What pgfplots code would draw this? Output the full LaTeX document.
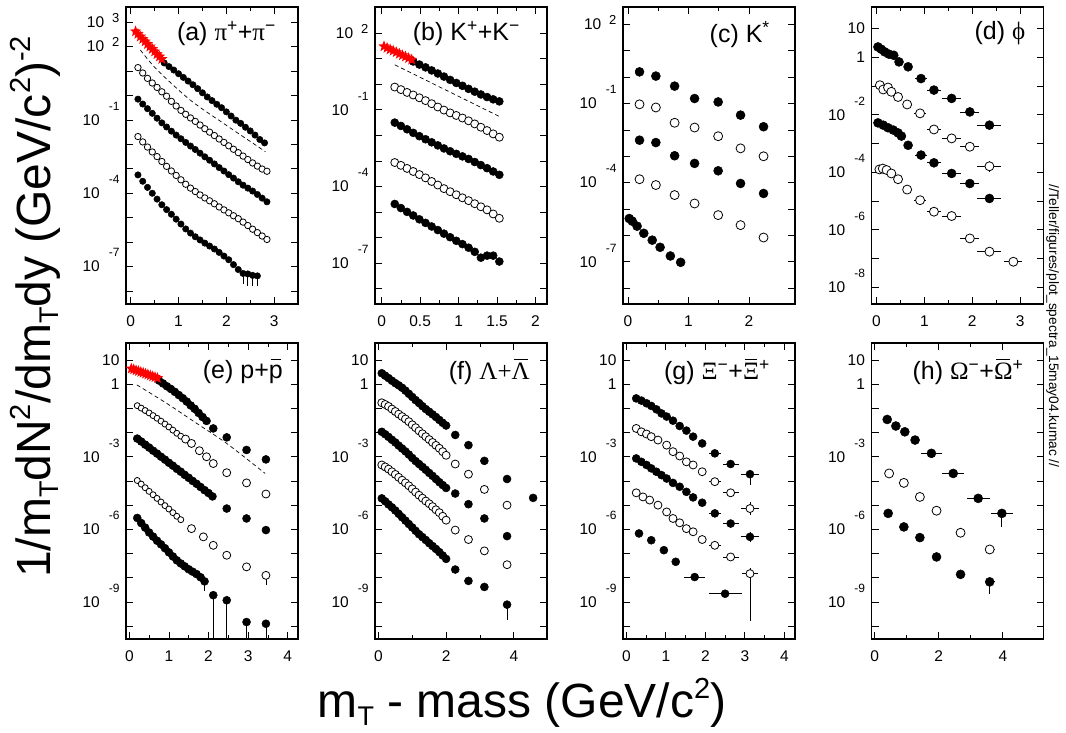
\documentclass[border=0pt]{standalone}
\usepackage{fontspec}
\setmainfont{Liberation Sans}
\newfontfamily\grk{Liberation Serif}
\usepackage{pgfplots}
\pgfplotsset{compat=1.18}
\usetikzlibrary{plotmarks}

% filled five-point star, for the red low-pT points
\pgfdeclareplotmark{fstar}{%
  \pgfpathmoveto{\pgfpointpolar{90}{\pgfplotmarksize}}%
  \pgfpathlineto{\pgfpointpolar{126}{0.42\pgfplotmarksize}}%
  \pgfpathlineto{\pgfpointpolar{162}{\pgfplotmarksize}}%
  \pgfpathlineto{\pgfpointpolar{198}{0.42\pgfplotmarksize}}%
  \pgfpathlineto{\pgfpointpolar{234}{\pgfplotmarksize}}%
  \pgfpathlineto{\pgfpointpolar{270}{0.42\pgfplotmarksize}}%
  \pgfpathlineto{\pgfpointpolar{306}{\pgfplotmarksize}}%
  \pgfpathlineto{\pgfpointpolar{342}{0.42\pgfplotmarksize}}%
  \pgfpathlineto{\pgfpointpolar{18}{\pgfplotmarksize}}%
  \pgfpathlineto{\pgfpointpolar{54}{0.42\pgfplotmarksize}}%
  \pgfpathclose\pgfusepathqfill}

% y values are log10 of the yield; labels drawn PAW-style
\newcommand{\tn}[1]{10\hspace{9pt}\raisebox{15pt}[0pt][0pt]{\fontsize{12}{12}\selectfont#1}}
\newcommand{\tp}[1]{10\hspace{8pt}\raisebox{5pt}[0pt][0pt]{\fontsize{13}{13}\selectfont#1}}
\newcommand{\tz}[1]{#1\hspace{20pt}}
% scripts for the big axis titles
\newcommand{\bsup}[1]{\raisebox{19pt}{\fontsize{29}{29}\selectfont#1}}
\newcommand{\bsub}[1]{\raisebox{-8pt}{\fontsize{27}{27}\selectfont#1}}
% bar over a letter (antiparticles)
\newcommand{\obar}[2]{\setbox0\hbox{#2}\rlap{\hspace{0.12\wd0}\raisebox{#1}{\rule{0.76\wd0}{1.3pt}}}\box0}

\tikzset{plab/.style={anchor=north east, inner sep=0pt, font=\fontsize{25}{26}\selectfont}}

\pgfplotsset{
  panel/.style={scale only axis, width=172pt, anchor=south west,
    axis line style={line width=1.5pt},
    tick style={black, line width=0.8pt},
    major tick length=7pt, minor tick length=4pt,
    minor x tick num=1,
    tick label style={font=\fontsize{15.5}{16}\selectfont},
    xticklabel style={/pgf/number format/assume math mode=true, yshift=-8pt},
    yticklabel style={xshift=-3pt}},
  top/.style={panel, height=297pt},
  bot/.style={panel, height=296pt, ymin=-10.53, ymax=1.70, ytick={-10,...,1},
    yticklabels={{},\tn{-9},{},{},\tn{-6},{},{},\tn{-3},{},{},\tz{1},\tz{10}}},
  fc/.style={only marks, mark=*, mark size=#1, mark options={fill=black, draw=black, line width=0.5pt}},
  oc/.style={only marks, mark=*, mark size=#1, mark options={fill=white, draw=black, line width=0.8pt}},
  rs/.style={only marks, mark=fstar, mark size=6, red, mark options={fill=red, draw=red}},
  dl/.style={no marks, black, line width=0.7pt, dash pattern=on 4pt off 3pt},
  eb/.style={black, only marks, mark=none, error bars/.cd, x dir=both, x explicit,
    y dir=both, y explicit, error mark=none, error bar style={black, line width=0.8pt}},
}

\begin{document}
\begin{tikzpicture}
\useasboundingbox (0pt,0pt) rectangle (1066pt,733pt);

% ---------------- (a) pions
\begin{axis}[top, at={(126pt,429pt)}, xmin=-0.1, xmax=3.5, ymin=-8.53, ymax=3.62,
  xtick={0,1,2,3}, ytick={-8,...,3},
  yticklabels={{},\tn{-7},{},{},\tn{-4},{},{},\tn{-1},{},{},\tp{2},\tp{3}}]
\addplot[dl, smooth] coordinates {(0.2,1.86) (0.55,1.05) (1.24,-0.18) (1.94,-1.14) (2.82,-2.30)};
\addplot[fc=3.2] coordinates {(0.7,1.33) (0.8,1.18) (0.9,1.04) (1.0,0.89) (1.1,0.74) (1.2,0.59) (1.3,0.44) (1.4,0.28) (1.5,0.11) (1.6,-0.06) (1.7,-0.21) (1.8,-0.36) (1.9,-0.50) (2.0,-0.67) (2.1,-0.84) (2.2,-1.01) (2.3,-1.14) (2.4,-1.30) (2.5,-1.45) (2.6,-1.62) (2.7,-1.80) (2.8,-1.94)};
\addplot[oc=3.2] coordinates {(0.15,1.14) (0.25,0.92) (0.35,0.70) (0.45,0.51) (0.55,0.33) (0.65,0.15) (0.75,-0.03) (0.85,-0.24) (0.95,-0.43) (1.05,-0.61) (1.15,-0.77) (1.25,-0.92) (1.35,-1.06) (1.45,-1.21) (1.55,-1.36) (1.65,-1.50) (1.75,-1.64) (1.85,-1.78) (1.95,-1.92) (2.05,-2.06) (2.15,-2.20) (2.25,-2.34) (2.35,-2.48) (2.45,-2.62) (2.55,-2.76) (2.65,-2.89) (2.75,-3.01) (2.85,-3.10)};
\addplot[fc=3.2] coordinates {(0.15,-0.15) (0.25,-0.35) (0.35,-0.54) (0.45,-0.73) (0.55,-0.93) (0.65,-1.12) (0.75,-1.29) (0.85,-1.46) (0.95,-1.62) (1.05,-1.77) (1.15,-1.92) (1.25,-2.07) (1.35,-2.21) (1.45,-2.36) (1.55,-2.51) (1.65,-2.65) (1.75,-2.80) (1.85,-2.95) (1.95,-3.09) (2.05,-3.24) (2.15,-3.38) (2.25,-3.53) (2.35,-3.67) (2.45,-3.79) (2.55,-3.91) (2.65,-4.05) (2.75,-4.20) (2.85,-4.35)};
\addplot[oc=3.2] coordinates {(0.15,-1.68) (0.25,-1.90) (0.35,-2.11) (0.45,-2.31) (0.55,-2.50) (0.65,-2.70) (0.75,-2.90) (0.85,-3.09) (0.95,-3.27) (1.05,-3.45) (1.15,-3.63) (1.25,-3.79) (1.35,-3.93) (1.45,-4.07) (1.55,-4.19) (1.65,-4.31) (1.75,-4.43) (1.85,-4.56) (1.95,-4.68) (2.05,-4.80) (2.15,-4.92) (2.25,-5.04) (2.35,-5.18) (2.45,-5.32) (2.55,-5.47) (2.65,-5.61) (2.75,-5.75) (2.85,-5.89)};
\addplot[eb] coordinates {(2.35,-7.28) += (0,0) -= (0,0.45) (2.45,-7.30) += (0,0) -= (0,0.5) (2.55,-7.36) += (0,0) -= (0,0.45) (2.65,-7.38) += (0,0) -= (0,0.4)};
\addplot[fc=3.2] coordinates {(0.15,-3.25) (0.25,-3.51) (0.35,-3.76) (0.45,-4.00) (0.55,-4.24) (0.65,-4.47) (0.75,-4.67) (0.85,-4.86) (0.95,-5.06) (1.05,-5.26) (1.15,-5.46) (1.25,-5.63) (1.35,-5.78) (1.45,-5.91) (1.55,-6.04) (1.65,-6.16) (1.75,-6.28) (1.85,-6.42) (1.95,-6.57) (2.05,-6.72) (2.15,-6.92) (2.25,-7.12) (2.35,-7.28) (2.45,-7.30) (2.55,-7.36) (2.65,-7.38)};
\addplot[rs] coordinates {(0.10,2.62) (0.15,2.52) (0.20,2.41) (0.25,2.31) (0.30,2.21) (0.35,2.10) (0.40,2.00) (0.45,1.90) (0.50,1.80) (0.55,1.69) (0.60,1.59) (0.65,1.49)};
\node[plab] at (rel axis cs:1,1) [xshift=-22pt, yshift=-14pt] {(a) {\grk π}\textsuperscript{+}+{\grk π}\textsuperscript{−}};
\end{axis}

% ---------------- (b) kaons
\begin{axis}[top, at={(375pt,429pt)}, xmin=-0.087, xmax=2.15, ymin=-8.59, ymax=3.02,
  xtick={0,0.5,1,1.5,2}, ytick={-8,...,3},
  yticklabels={{},\tn{-7},{},{},\tn{-4},{},{},\tn{-1},{},{},\tp{2},{}}]
\addplot[dl] coordinates {(0.17,0.76) (1.53,-1.26)};
\addplot[fc=4] coordinates {(0.41,0.89) (0.49,0.77) (0.57,0.66) (0.65,0.54) (0.73,0.42) (0.81,0.30) (0.89,0.17) (0.97,0.05) (1.05,-0.06) (1.13,-0.18) (1.21,-0.29) (1.29,-0.40) (1.37,-0.50) (1.45,-0.59) (1.53,-0.67)};
\addplot[oc=4] coordinates {(0.17,-0.11) (0.25,-0.21) (0.33,-0.32) (0.41,-0.42) (0.49,-0.53) (0.57,-0.64) (0.65,-0.76) (0.73,-0.89) (0.81,-1.01) (0.89,-1.12) (0.97,-1.22) (1.05,-1.32) (1.13,-1.43) (1.21,-1.55) (1.29,-1.68) (1.37,-1.81) (1.45,-1.94) (1.53,-2.07)};
\addplot[fc=4] coordinates {(0.17,-1.50) (0.25,-1.63) (0.33,-1.76) (0.41,-1.90) (0.49,-2.03) (0.57,-2.15) (0.65,-2.27) (0.73,-2.39) (0.81,-2.51) (0.89,-2.62) (0.97,-2.72) (1.05,-2.82) (1.13,-2.92) (1.21,-3.04) (1.29,-3.16) (1.37,-3.28) (1.45,-3.41) (1.53,-3.54)};
\addplot[oc=4] coordinates {(0.17,-3.06) (0.25,-3.17) (0.33,-3.29) (0.41,-3.41) (0.49,-3.53) (0.57,-3.66) (0.65,-3.80) (0.73,-3.94) (0.81,-4.08) (0.89,-4.20) (0.97,-4.32) (1.05,-4.44) (1.13,-4.55) (1.21,-4.67) (1.29,-4.79) (1.37,-4.91) (1.45,-5.07) (1.53,-5.24)};
\addplot[fc=4] coordinates {(0.17,-4.68) (0.25,-4.84) (0.33,-4.99) (0.41,-5.13) (0.49,-5.28) (0.57,-5.42) (0.65,-5.56) (0.73,-5.70) (0.81,-5.84) (0.89,-5.98) (0.97,-6.12) (1.05,-6.25) (1.13,-6.39) (1.21,-6.55) (1.29,-6.78) (1.37,-6.70) (1.45,-6.70) (1.53,-6.93)};
\addplot[rs] coordinates {(0.03,1.48) (0.07,1.42) (0.11,1.36) (0.15,1.31) (0.19,1.25) (0.23,1.19) (0.27,1.13) (0.31,1.08) (0.35,1.02) (0.39,0.96)};
\node[plab] at (rel axis cs:1,1) [xshift=-27pt, yshift=-14pt] {(b) K\textsuperscript{+}+K\textsuperscript{−}};
\end{axis}

% ---------------- (c) K*
\begin{axis}[top, at={(623pt,429pt)}, xmin=-0.083, xmax=2.76, ymin=-8.6, ymax=2.66,
  xtick={0,1,2}, ytick={-8,...,2},
  yticklabels={{},\tn{-7},{},{},\tn{-4},{},{},\tn{-1},{},{},\tp{2}}]
\addplot[fc=4.5] coordinates {(0.19,0.20) (0.46,0.04) (0.77,-0.34) (1.10,-0.81) (1.49,-0.94) (1.86,-1.44) (2.24,-1.88)};
\addplot[oc=4.5] coordinates {(0.19,-1.03) (0.46,-1.15) (0.77,-1.73) (1.10,-1.91) (1.49,-2.24) (1.86,-2.70) (2.24,-3.00)};
\addplot[fc=4.5] coordinates {(0.19,-2.39) (0.46,-2.48) (0.77,-2.98) (1.10,-3.27) (1.49,-3.55) (1.86,-4.03) (2.24,-4.41)};
\addplot[oc=4.5] coordinates {(0.19,-3.87) (0.46,-4.09) (0.77,-4.47) (1.10,-4.79) (1.49,-5.23) (1.86,-5.61) (2.24,-6.08)};
\addplot[fc=4.5] coordinates {(0.02,-5.36) (0.07,-5.46) (0.15,-5.65) (0.26,-5.92) (0.40,-6.18) (0.53,-6.45) (0.70,-6.78) (0.87,-7.02)};
\node[plab] at (rel axis cs:1,1) [xshift=-25pt, yshift=-14pt] {(c) K\textsuperscript{*}};
\end{axis}

% ---------------- (d) phi
\begin{axis}[top, at={(871.5pt,429pt)}, xmin=-0.105, xmax=3.49, ymin=-8.58, ymax=1.75,
  xtick={0,1,2,3}, ytick={-8,...,1},
  yticklabels={\tn{-8},{},\tn{-6},{},\tn{-4},{},\tn{-2},{},\tz{1},\tz{10}}]
\addplot[eb] coordinates {(0.66,-0.33) +- (0.07,0) (0.93,-0.74) +- (0.13,0) (1.20,-1.14) +- (0.15,0) (1.57,-1.43) +- (0.2,0) (1.95,-1.90) +- (0.2,0) (2.36,-2.36) +- (0.25,0)};
\addplot[eb] coordinates {(0.64,-1.64) +- (0.07,0) (0.91,-1.95) +- (0.13,0) (1.20,-2.51) +- (0.15,0) (1.57,-2.82) +- (0.2,0) (1.95,-3.11) +- (0.2,0) (2.36,-3.79) +- (0.25,0.2)};
\addplot[eb] coordinates {(0.66,-3.06) +- (0.07,0) (0.93,-3.40) +- (0.13,0) (1.20,-3.67) +- (0.15,0) (1.57,-4.04) +- (0.2,0) (1.95,-4.39) +- (0.2,0) (2.36,-4.91) +- (0.25,0)};
\addplot[eb] coordinates {(0.64,-4.60) +- (0.07,0) (0.91,-4.97) +- (0.13,0) (1.20,-5.37) +- (0.15,0) (1.57,-5.52) +- (0.2,0) (1.95,-6.30) +- (0.2,0) (2.36,-6.76) +- (0.25,0) (2.86,-7.11) +- (0.19,0)};
\addplot[fc=4.5] coordinates {(0.03,0.36) (0.10,0.28) (0.17,0.19) (0.26,0.11) (0.36,0.07) (0.47,-0.16) (0.66,-0.33) (0.93,-0.74) (1.20,-1.14) (1.57,-1.43) (1.95,-1.90) (2.36,-2.36)};
\addplot[oc=4.5] coordinates {(0.07,-0.97) (0.14,-1.12) (0.24,-1.05) (0.31,-1.20) (0.45,-1.38) (0.64,-1.64) (0.91,-1.95) (1.20,-2.51) (1.57,-2.82) (1.95,-3.11) (2.36,-3.79)};
\addplot[fc=4.5] coordinates {(0.03,-2.28) (0.14,-2.36) (0.24,-2.45) (0.35,-2.53) (0.45,-2.63) (0.52,-2.74) (0.66,-3.06) (0.93,-3.40) (1.20,-3.67) (1.57,-4.04) (1.95,-4.39) (2.36,-4.91)};
\addplot[oc=4.5] coordinates {(0.06,-3.90) (0.13,-3.87) (0.21,-3.92) (0.31,-4.04) (0.45,-4.24) (0.64,-4.60) (0.91,-4.97) (1.20,-5.37) (1.57,-5.52) (1.95,-6.30) (2.36,-6.76) (2.86,-7.11)};
\node[plab] at (rel axis cs:1,1) [xshift=-18pt, yshift=-14pt] {(d) {\grk ϕ}};
\end{axis}

% ---------------- (e) protons
\begin{axis}[bot, at={(126pt,94pt)}, xmin=-0.084, xmax=4.26, xtick={0,...,4}]
\addplot[dl, smooth] coordinates {(0.19,-0.03) (0.94,-0.79) (1.70,-1.62) (2.46,-2.45) (3.43,-3.69)};
\addplot[fc=4] coordinates {(0.75,0.15) (0.85,0.03) (0.95,-0.09) (1.05,-0.20) (1.15,-0.32) (1.25,-0.45) (1.35,-0.58) (1.45,-0.72) (1.55,-0.88) (1.65,-1.02) (1.75,-1.19) (1.85,-1.36) (1.95,-1.52) (2.12,-1.83) (2.46,-2.20) (2.96,-2.72) (3.45,-3.11)};
\addplot[oc=3] coordinates {(0.2,-0.89) (0.3,-0.99) (0.4,-1.09) (0.5,-1.19) (0.6,-1.30) (0.7,-1.41) (0.8,-1.53) (0.9,-1.65) (1.0,-1.77) (1.1,-1.90) (1.2,-2.03) (1.3,-2.15)};
\addplot[oc=4] coordinates {(1.42,-2.27) (1.57,-2.45) (1.77,-2.75) (1.95,-3.00) (2.12,-3.28) (2.46,-3.66) (2.96,-4.08) (3.45,-4.54)};
\addplot[eb] coordinates {(3.45,-6.03) +- (0,0.15)};
\addplot[fc=4] coordinates {(0.2,-2.25) (0.3,-2.37) (0.4,-2.50) (0.5,-2.62) (0.6,-2.75) (0.7,-2.87) (0.8,-3.00) (0.9,-3.12) (1.0,-3.25) (1.1,-3.37) (1.2,-3.50) (1.3,-3.62) (1.4,-3.75) (1.5,-3.87) (1.6,-4.00) (1.7,-4.12) (1.8,-4.25) (1.9,-4.38) (2.0,-4.50) (2.1,-4.64) (2.46,-5.14) (2.96,-5.55) (3.45,-6.03)};
\addplot[oc=3] coordinates {(0.2,-3.98) (0.3,-4.13) (0.4,-4.28) (0.5,-4.43) (0.6,-4.57) (0.7,-4.72) (0.8,-4.87) (0.9,-5.02) (1.0,-5.16) (1.1,-5.31) (1.2,-5.46) (1.3,-5.60)};
\addplot[eb] coordinates {(3.45,-7.90) += (0,0.2) -= (0,0.4)};
\addplot[oc=4] coordinates {(1.57,-5.97) (1.87,-6.31) (2.12,-6.66) (2.46,-7.07) (2.96,-7.55) (3.45,-7.90)};
\addplot[eb] coordinates {(1.9,-8.15) += (0,0) -= (0,0.4) (2.12,-8.72) += (0,0) -= (0,3) (2.46,-8.93) += (0,0) -= (0,3) (2.96,-9.83) += (0,0) -= (0,3) (3.45,-9.90) += (0,0) -= (0,3)};
\addplot[fc=4] coordinates {(0.2,-5.53) (0.3,-5.74) (0.4,-5.93) (0.5,-6.13) (0.6,-6.30) (0.7,-6.47) (0.8,-6.62) (0.9,-6.78) (1.0,-6.95) (1.1,-7.12) (1.2,-7.28) (1.3,-7.41) (1.4,-7.53) (1.5,-7.65) (1.6,-7.75) (1.7,-7.85) (1.8,-7.98) (1.9,-8.15) (2.12,-8.72) (2.46,-8.93) (2.96,-9.83) (3.45,-9.90)};
\addplot[rs] coordinates {(0.05,0.64) (0.11,0.61) (0.17,0.57) (0.23,0.54) (0.29,0.50) (0.35,0.47) (0.41,0.43) (0.47,0.40) (0.53,0.36) (0.59,0.32) (0.65,0.29) (0.71,0.25)};
\node[plab] at (rel axis cs:1,1) [xshift=-15pt, yshift=-16pt] {(e) p+\obar{18pt}{p}};
\end{axis}

% ---------------- (f) Lambda
\begin{axis}[bot, at={(375pt,94pt)}, xmin=-0.1, xmax=4.98, xtick={0,2,4}]
\addplot[fc=4] coordinates {(0.1,0.45) (0.2,0.35) (0.3,0.25) (0.4,0.14) (0.5,0.04) (0.6,-0.05) (0.7,-0.15) (0.8,-0.27) (0.9,-0.40) (1.0,-0.53) (1.1,-0.66) (1.2,-0.78) (1.3,-0.91) (1.4,-1.03) (1.5,-1.14) (1.6,-1.25) (1.7,-1.36) (1.8,-1.48) (1.9,-1.60) (2.0,-1.71) (2.27,-2.10) (2.66,-2.52) (3.13,-3.17) (3.80,-3.92) (4.57,-4.70)};
\addplot[oc=4] coordinates {(0.1,-0.77) (0.2,-0.84) (0.3,-0.92) (0.4,-1.03) (0.5,-1.13) (0.6,-1.24) (0.7,-1.34) (0.8,-1.44) (0.9,-1.55) (1.0,-1.68) (1.1,-1.80) (1.2,-1.93) (1.3,-2.05) (1.4,-2.17) (1.5,-2.29) (1.6,-2.41) (1.7,-2.53) (1.8,-2.65) (1.9,-2.79) (2.0,-2.94) (2.27,-3.30) (2.66,-3.72) (3.13,-4.35) (3.80,-5.00)};
\addplot[fc=4] coordinates {(0.1,-1.97) (0.2,-2.07) (0.3,-2.18) (0.4,-2.30) (0.5,-2.41) (0.6,-2.54) (0.7,-2.66) (0.8,-2.78) (0.9,-2.91) (1.0,-3.05) (1.1,-3.18) (1.2,-3.30) (1.3,-3.42) (1.4,-3.54) (1.5,-3.67) (1.6,-3.79) (1.7,-3.92) (1.8,-4.05) (1.9,-4.17) (2.0,-4.29) (2.27,-4.52) (2.66,-4.96) (3.13,-5.55) (3.80,-6.28)};
\addplot[oc=4] coordinates {(0.1,-3.34) (0.2,-3.42) (0.3,-3.51) (0.4,-3.62) (0.5,-3.73) (0.6,-3.85) (0.7,-3.97) (0.8,-4.08) (0.9,-4.20) (1.0,-4.33) (1.1,-4.46) (1.2,-4.59) (1.3,-4.71) (1.4,-4.83) (1.5,-4.94) (1.6,-5.06) (1.7,-5.19) (1.8,-5.31) (1.9,-5.46) (2.0,-5.62) (2.27,-6.03) (2.66,-6.42) (3.13,-6.89) (3.80,-7.46)};
\addplot[eb] coordinates {(3.80,-9.11) += (0,0) -= (0,0.65)};
\addplot[fc=4] coordinates {(0.1,-4.72) (0.2,-4.84) (0.3,-4.97) (0.4,-5.09) (0.5,-5.22) (0.6,-5.36) (0.7,-5.50) (0.8,-5.64) (0.9,-5.78) (1.0,-5.92) (1.1,-6.06) (1.2,-6.20) (1.3,-6.32) (1.4,-6.44) (1.5,-6.57) (1.6,-6.69) (1.7,-6.81) (1.8,-6.94) (1.9,-7.08) (2.0,-7.22) (2.27,-7.66) (2.66,-8.13) (3.13,-8.38) (3.80,-9.11)};
\node[plab] at (rel axis cs:1,1) [xshift=-17pt, yshift=-16pt] {(f) {\grk Λ+\obar{19pt}{Λ}}};
\end{axis}

% ---------------- (g) Xi
\begin{axis}[bot, at={(623pt,94pt)}, xmin=-0.085, xmax=4.27, xtick={0,...,4}]
\addplot[eb] coordinates {(1.92,-2.45) +- (0.08,0) (2.24,-2.86) +- (0.15,0) (2.64,-3.30) +- (0.2,0) (3.13,-3.72) += (0.24,0.1) -= (0.24,0.45)};
\addplot[eb] coordinates {(2.24,-4.03) +- (0.15,0) (2.64,-4.49) +- (0.2,0) (3.13,-5.14) +- (0.24,0.25)};
\addplot[eb] coordinates {(2.24,-5.34) +- (0.15,0) (2.64,-5.76) +- (0.2,0) (3.13,-6.31) +- (0.24,0.2)};
\addplot[eb] coordinates {(2.24,-6.66) +- (0.15,0) (2.64,-7.14) +- (0.2,0) (3.13,-7.83) += (0.2,0.25) -= (0.2,1.95)};
\addplot[eb] coordinates {(1.73,-7.97) +- (0.27,0) (2.50,-8.66) +- (0.42,0)};
\addplot[fc=4] coordinates {(0.25,-0.59) (0.38,-0.68) (0.51,-0.79) (0.63,-0.90) (0.76,-1.04) (0.89,-1.21) (1.02,-1.34) (1.18,-1.51) (1.35,-1.73) (1.52,-1.92) (1.69,-2.17) (1.92,-2.45) (2.24,-2.86) (2.64,-3.30) (3.13,-3.72)};
\addplot[oc=4] coordinates {(0.25,-1.83) (0.38,-1.97) (0.51,-2.06) (0.63,-2.17) (0.80,-2.31) (1.02,-2.52) (1.18,-2.79) (1.35,-2.97) (1.52,-3.21) (1.69,-3.34) (1.92,-3.62) (2.24,-4.03) (2.64,-4.49) (3.13,-5.14)};
\addplot[fc=4] coordinates {(0.25,-3.07) (0.38,-3.21) (0.51,-3.34) (0.63,-3.48) (0.76,-3.62) (0.89,-3.76) (1.02,-3.90) (1.18,-4.08) (1.35,-4.24) (1.52,-4.45) (1.69,-4.68) (1.92,-4.90) (2.24,-5.34) (2.64,-5.76) (3.13,-6.31)};
\addplot[oc=4] coordinates {(0.25,-4.49) (0.42,-4.66) (0.59,-4.79) (0.80,-5.00) (1.02,-5.28) (1.18,-5.55) (1.35,-5.73) (1.52,-5.97) (1.69,-6.10) (1.92,-6.42) (2.24,-6.66) (2.64,-7.14) (3.13,-7.83)};
\addplot[fc=4] coordinates {(0.32,-6.17) (0.63,-6.45) (0.95,-6.86) (1.25,-7.34) (1.73,-7.97) (2.50,-8.66)};
\node[plab] at (rel axis cs:1,1) [xshift=-25pt, yshift=-16pt] {(g) {\grk Ξ}\textsuperscript{−}+{\grk\obar{19pt}{Ξ}}\textsuperscript{+}};
\end{axis}

% ---------------- (h) Omega
\begin{axis}[bot, at={(871.5pt,94pt)}, xmin=-0.1, xmax=5.27, xtick={0,2,4}]
\addplot[eb] coordinates {(1.77,-2.86) +- (0.33,0) (2.45,-3.69) +- (0.34,0) (3.23,-4.72) +- (0.36,0) (3.97,-5.34) += (0.34,0) -= (0.34,0.55)};
\addplot[eb] coordinates {(2.68,-6.14) +- (0.12,0.1) (3.59,-6.83) +- (0.15,0.1)};
\addplot[eb] coordinates {(2.68,-7.86) +- (0.12,0.1) (3.59,-8.17) += (0.15,0.15) -= (0.15,0.5)};
\addplot[fc=4.5] coordinates {(0.39,-1.46) (0.66,-1.73) (0.94,-1.97) (1.26,-2.31) (1.77,-2.86) (2.45,-3.69) (3.23,-4.72) (3.97,-5.34)};
\addplot[oc=4.5] coordinates {(0.45,-3.69) (0.91,-4.08) (1.41,-4.66) (1.93,-5.23) (2.68,-6.14) (3.59,-6.83)};
\addplot[fc=4.5] coordinates {(0.42,-5.34) (0.91,-5.90) (1.41,-6.34) (1.93,-7.14) (2.68,-7.86) (3.59,-8.17)};
\node[plab] at (rel axis cs:1,1) [xshift=-20pt, yshift=-16pt] {(h) {\grk Ω}\textsuperscript{−}+{\grk\obar{19pt}{Ω}}\textsuperscript{+}};
\end{axis}

% axis titles and file tag
\node[rotate=90, anchor=base, inner sep=0pt, font=\fontsize{48}{52}\selectfont] at (50pt,426pt)
  {1/m\bsub{T}dN\bsup{2}/dm\bsub{T}dy (GeV/c\bsup{2})\bsup{-2}};
\node[anchor=base, inner sep=0pt, font=\fontsize{48}{52}\selectfont] at (522pt,15pt)
  {m\bsub{T} - mass (GeV/c\bsup{2})};
\node[rotate=-90, anchor=base, inner sep=0pt, font=\fontsize{13.7}{15}\selectfont] at (1049pt,407pt)
  {//Teller/figures/plot\_spectra\_15may04.kumac //};
\end{tikzpicture}
\end{document}
